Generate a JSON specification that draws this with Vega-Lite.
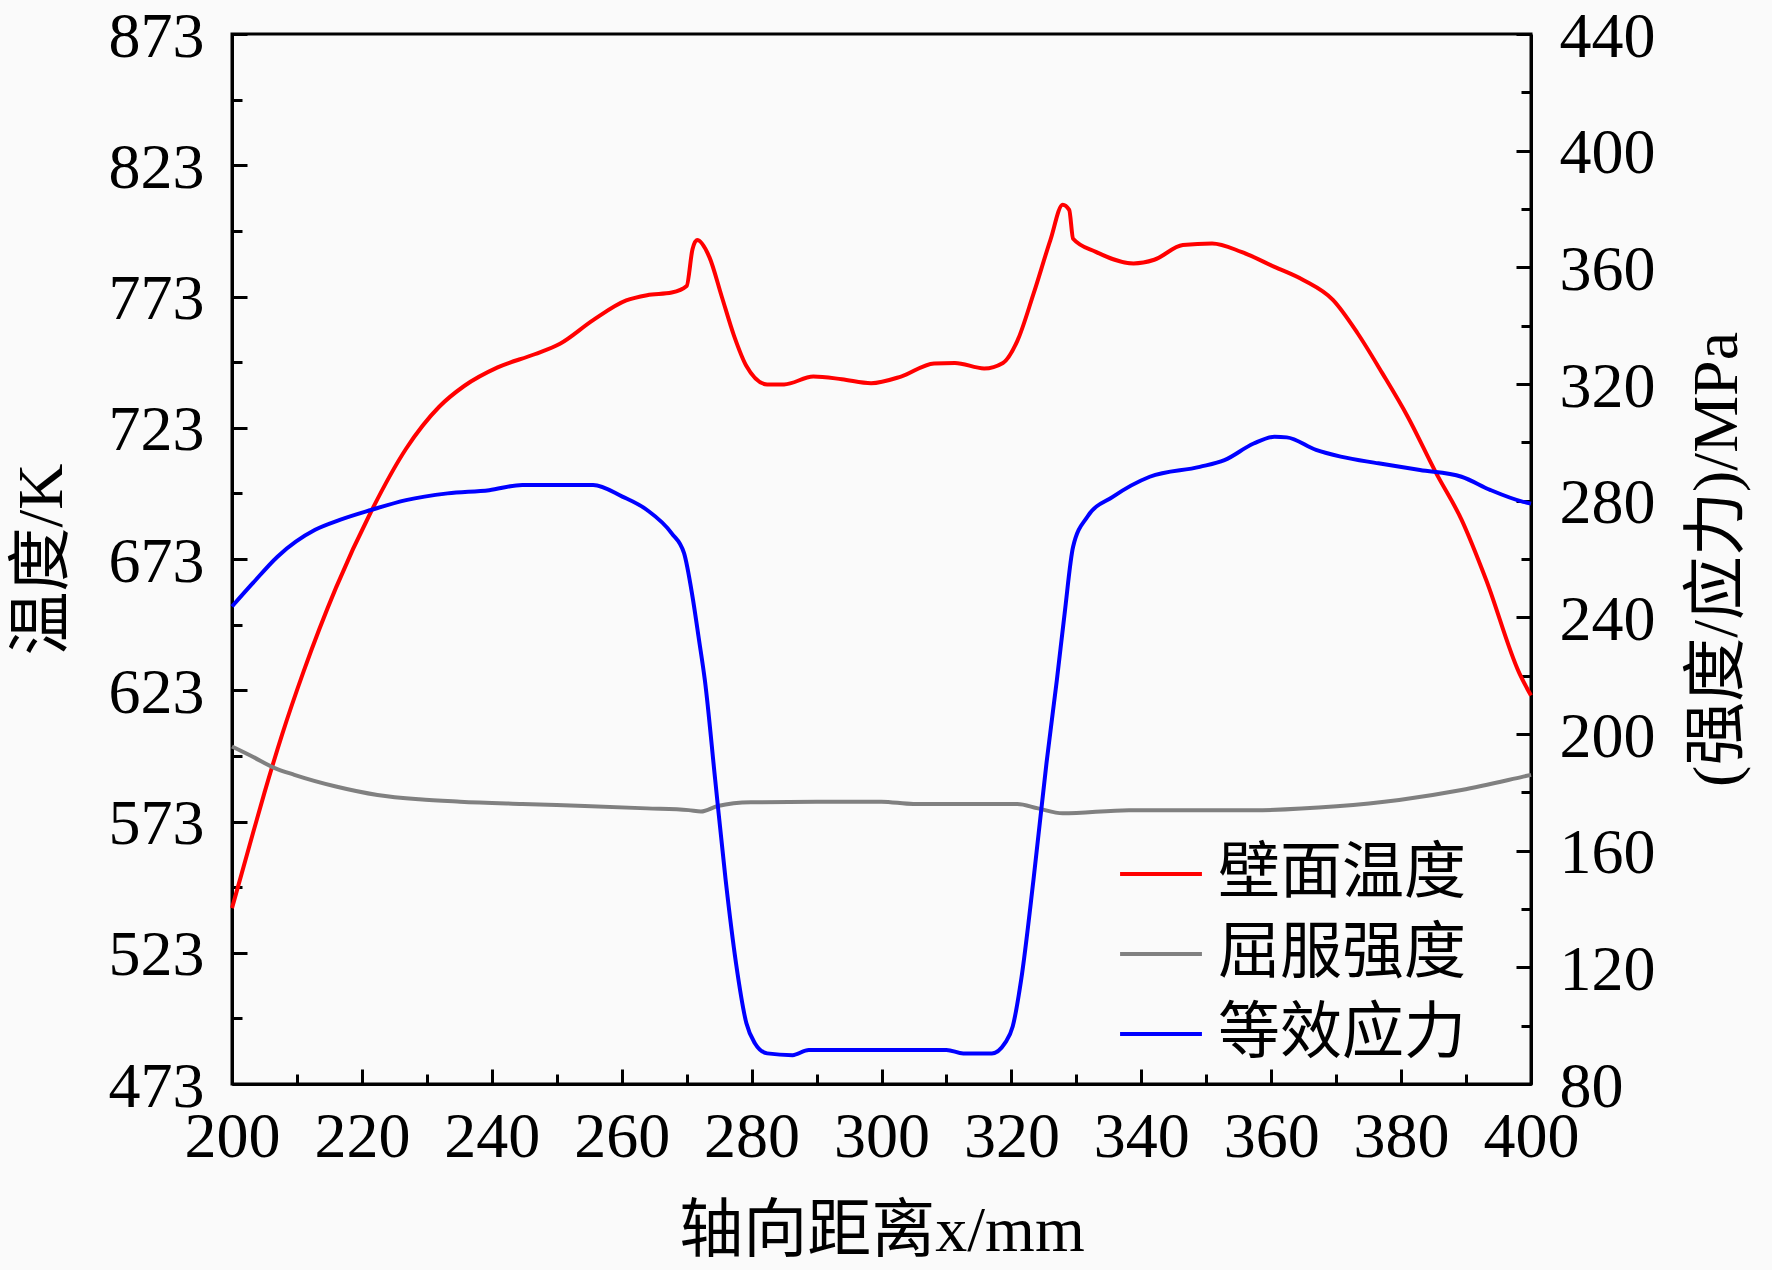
{
  "$schema": "https://vega.github.io/schema/vega-lite/v6.json",
  "width": 1299,
  "height": 1050,
  "autosize": {"type": "none"},
  "padding": {"left": 232, "top": 34, "right": 241, "bottom": 186},
  "background": "#fafafa",
  "config": {
    "view": {"stroke": "black", "strokeWidth": 3},
    "font": "Liberation Serif, Noto Sans CJK SC",
    "axis": {
      "grid": false,
      "domainColor": "black",
      "domainWidth": 3,
      "tickColor": "black",
      "tickWidth": 3,
      "labelColor": "black",
      "titleColor": "black",
      "labelFont": "Liberation Serif",
      "labelFontSize": 64,
      "titleFont": "Liberation Serif, Noto Sans CJK SC",
      "titleFontSize": 64,
      "titleFontWeight": "normal",
      "labelOverlap": false,
      "labelFlush": false
    }
  },
  "data": {
    "values": [
      {"series": "壁面温度", "x": 200, "v": 540},
      {"series": "壁面温度", "x": 202.6, "v": 563},
      {"series": "壁面温度", "x": 205, "v": 584},
      {"series": "壁面温度", "x": 207.7, "v": 606},
      {"series": "壁面温度", "x": 211, "v": 630},
      {"series": "壁面温度", "x": 216, "v": 662},
      {"series": "壁面温度", "x": 221.4, "v": 691},
      {"series": "壁面温度", "x": 226.8, "v": 715},
      {"series": "壁面温度", "x": 231.9, "v": 731},
      {"series": "壁面温度", "x": 235.8, "v": 739},
      {"series": "壁面温度", "x": 240.9, "v": 746},
      {"series": "壁面温度", "x": 246.6, "v": 751},
      {"series": "壁面温度", "x": 250.5, "v": 755},
      {"series": "壁面温度", "x": 255.6, "v": 764},
      {"series": "壁面温度", "x": 260.7, "v": 771.5},
      {"series": "壁面温度", "x": 263.9, "v": 773.5},
      {"series": "壁面温度", "x": 267.7, "v": 774.5},
      {"series": "壁面温度", "x": 270, "v": 777},
      {"series": "壁面温度", "x": 270.9, "v": 791},
      {"series": "壁面温度", "x": 271.6, "v": 794.5},
      {"series": "壁面温度", "x": 273.5, "v": 788},
      {"series": "壁面温度", "x": 275.4, "v": 773},
      {"series": "壁面温度", "x": 277.3, "v": 758},
      {"series": "壁面温度", "x": 279.2, "v": 746.5},
      {"series": "壁面温度", "x": 282.4, "v": 739.5},
      {"series": "壁面温度", "x": 285, "v": 739.5},
      {"series": "壁面温度", "x": 289.5, "v": 742.5},
      {"series": "壁面温度", "x": 293.9, "v": 741.5},
      {"series": "壁面温度", "x": 298.4, "v": 740},
      {"series": "壁面温度", "x": 303, "v": 742.5},
      {"series": "壁面温度", "x": 308.1, "v": 747.5},
      {"series": "壁面温度", "x": 311.3, "v": 747.7},
      {"series": "壁面温度", "x": 315.8, "v": 745.6},
      {"series": "壁面温度", "x": 318.7, "v": 747.7},
      {"series": "壁面温度", "x": 320.9, "v": 756},
      {"series": "壁面温度", "x": 323.4, "v": 774},
      {"series": "壁面温度", "x": 326, "v": 794.5},
      {"series": "壁面温度", "x": 327.9, "v": 808},
      {"series": "壁面温度", "x": 328.9, "v": 806},
      {"series": "壁面温度", "x": 329.5, "v": 795},
      {"series": "壁面温度", "x": 333, "v": 790},
      {"series": "壁面温度", "x": 338.8, "v": 785.6},
      {"series": "壁面温度", "x": 342, "v": 787},
      {"series": "壁面温度", "x": 346.4, "v": 792.6},
      {"series": "壁面温度", "x": 350.9, "v": 793.2},
      {"series": "壁面温度", "x": 355.4, "v": 790},
      {"series": "壁面温度", "x": 360.5, "v": 784.3},
      {"series": "壁面温度", "x": 365, "v": 779.2},
      {"series": "壁面温度", "x": 369.5, "v": 771.7},
      {"series": "壁面温度", "x": 373.3, "v": 759},
      {"series": "壁面温度", "x": 377.1, "v": 743.8},
      {"series": "壁面温度", "x": 381, "v": 727.3},
      {"series": "壁面温度", "x": 385.4, "v": 705.7},
      {"series": "壁面温度", "x": 389.3, "v": 688},
      {"series": "壁面温度", "x": 393.1, "v": 665},
      {"series": "壁面温度", "x": 398.2, "v": 629.5},
      {"series": "壁面温度", "x": 400, "v": 621},

      {"series": "屈服强度", "x": 200, "v": 195.7},
      {"series": "屈服强度", "x": 203.2, "v": 192.2},
      {"series": "屈服强度", "x": 206.4, "v": 188.5},
      {"series": "屈服强度", "x": 209.6, "v": 186},
      {"series": "屈服强度", "x": 216, "v": 182},
      {"series": "屈服强度", "x": 222.4, "v": 179.1},
      {"series": "屈服强度", "x": 228.8, "v": 177.6},
      {"series": "屈服强度", "x": 235.1, "v": 176.8},
      {"series": "屈服强度", "x": 244.7, "v": 176},
      {"series": "屈服强度", "x": 254.3, "v": 175.3},
      {"series": "屈服强度", "x": 263.9, "v": 174.5},
      {"series": "屈服强度", "x": 270.3, "v": 173.9},
      {"series": "屈服强度", "x": 272.2, "v": 173.4},
      {"series": "屈服强度", "x": 274.8, "v": 175.3},
      {"series": "屈服强度", "x": 279.9, "v": 176.6},
      {"series": "屈服强度", "x": 290, "v": 176.8},
      {"series": "屈服强度", "x": 300, "v": 176.8},
      {"series": "屈服强度", "x": 304.9, "v": 176},
      {"series": "屈服强度", "x": 320.9, "v": 176},
      {"series": "屈服强度", "x": 324.1, "v": 174.5},
      {"series": "屈服强度", "x": 327.9, "v": 172.8},
      {"series": "屈服强度", "x": 338.1, "v": 173.9},
      {"series": "屈服强度", "x": 357.3, "v": 173.9},
      {"series": "屈服强度", "x": 370.1, "v": 175.2},
      {"series": "屈服强度", "x": 379.7, "v": 177.4},
      {"series": "屈服强度", "x": 389.3, "v": 180.8},
      {"series": "屈服强度", "x": 398.8, "v": 185.4},
      {"series": "屈服强度", "x": 400, "v": 186},

      {"series": "等效应力", "x": 200, "v": 243.7},
      {"series": "等效应力", "x": 203.2, "v": 251.7},
      {"series": "等效应力", "x": 207, "v": 260.8},
      {"series": "等效应力", "x": 212.8, "v": 270},
      {"series": "等效应力", "x": 216.6, "v": 273.4},
      {"series": "等效应力", "x": 221.4, "v": 276.8},
      {"series": "等效应力", "x": 226.8, "v": 280.2},
      {"series": "等效应力", "x": 233.2, "v": 282.5},
      {"series": "等效应力", "x": 239.6, "v": 283.6},
      {"series": "等效应力", "x": 244.7, "v": 285.4},
      {"series": "等效应力", "x": 251.1, "v": 285.4},
      {"series": "等效应力", "x": 255.6, "v": 285.4},
      {"series": "等效应力", "x": 260.1, "v": 281.4},
      {"series": "等效应力", "x": 263.9, "v": 276.8},
      {"series": "等效应力", "x": 267.7, "v": 268.8},
      {"series": "等效应力", "x": 269.6, "v": 262},
      {"series": "等效应力", "x": 270.9, "v": 247.1},
      {"series": "等效应力", "x": 271.9, "v": 232.3},
      {"series": "等效应力", "x": 272.8, "v": 218.5},
      {"series": "等效应力", "x": 274.4, "v": 184.2},
      {"series": "等效应力", "x": 276, "v": 150},
      {"series": "等效应力", "x": 277.6, "v": 121.4},
      {"series": "等效应力", "x": 279.2, "v": 100.8},
      {"series": "等效应力", "x": 280.5, "v": 94},
      {"series": "等效应力", "x": 282.4, "v": 90.5},
      {"series": "等效应力", "x": 286.3, "v": 89.9},
      {"series": "等效应力", "x": 288.8, "v": 91.7},
      {"series": "等效应力", "x": 300, "v": 91.7},
      {"series": "等效应力", "x": 310, "v": 91.7},
      {"series": "等效应力", "x": 312.6, "v": 90.5},
      {"series": "等效应力", "x": 317, "v": 90.5},
      {"series": "等效应力", "x": 319, "v": 94},
      {"series": "等效应力", "x": 320.2, "v": 99.7},
      {"series": "等效应力", "x": 321.5, "v": 115.7},
      {"series": "等效应力", "x": 323.4, "v": 150},
      {"series": "等效应力", "x": 325.4, "v": 190},
      {"series": "等效应力", "x": 327, "v": 218.5},
      {"series": "等效应力", "x": 328.2, "v": 241.4},
      {"series": "等效应力", "x": 329.5, "v": 264.2},
      {"series": "等效应力", "x": 331.7, "v": 274.5},
      {"series": "等效应力", "x": 335.6, "v": 281.3},
      {"series": "等效应力", "x": 341.3, "v": 288.2},
      {"series": "等效应力", "x": 349, "v": 291.6},
      {"series": "等效应力", "x": 352.8, "v": 293.9},
      {"series": "等效应力", "x": 357.3, "v": 299.6},
      {"series": "等效应力", "x": 360.5, "v": 301.9},
      {"series": "等效应力", "x": 362.4, "v": 301.7},
      {"series": "等效应力", "x": 366.9, "v": 297.4},
      {"series": "等效应力", "x": 370.7, "v": 295.1},
      {"series": "等效应力", "x": 376.5, "v": 292.8},
      {"series": "等效应力", "x": 382.9, "v": 290.5},
      {"series": "等效应力", "x": 389.3, "v": 288.2},
      {"series": "等效应力", "x": 393.7, "v": 283.7},
      {"series": "等效应力", "x": 398.8, "v": 279.6},
      {"series": "等效应力", "x": 400, "v": 279}
    ]
  },
  "layer": [
    {
      "transform": [{"filter": "datum.series === '壁面温度'"}],
      "mark": {"type": "line", "strokeWidth": 4, "interpolate": "monotone"},
      "encoding": {
        "x": {
          "field": "x", "type": "quantitative",
          "scale": {"domain": [200, 400], "nice": false},
          "axis": {"orient": "bottom", "values": [200, 220, 240, 260, 280, 300, 320, 340, 360, 380, 400], "tickSize": -15, "labelPadding": 36, "title": "轴向距离x/mm", "titlePadding": 30}
        },
        "y": {
          "field": "v", "type": "quantitative",
          "scale": {"domain": [473, 873], "nice": false, "zero": false},
          "axis": {"orient": "left", "values": [473, 523, 573, 623, 673, 723, 773, 823, 873], "tickSize": -15, "labelPadding": 43, "labelOffset": 3, "title": "温度/K", "titlePadding": 34}
        },
        "color": {
          "field": "series", "type": "nominal",
          "scale": {"domain": ["壁面温度", "屈服强度", "等效应力"], "range": ["#ff0000", "#808080", "#0000ff"]},
          "legend": {
            "orient": "none", "legendX": 886, "legendY": 797, "title": null,
            "symbolType": "stroke", "symbolSize": 6700, "symbolStrokeWidth": 4,
            "labelFont": "Noto Sans CJK SC", "labelFontSize": 62, "labelColor": "black",
            "labelOffset": 14, "rowPadding": 6, "padding": 0, "labelLimit": 400
          }
        }
      }
    },
    {
      "transform": [{"filter": "datum.series === '屈服强度'"}],
      "mark": {"type": "line", "strokeWidth": 4, "interpolate": "monotone"},
      "encoding": {
        "x": {
          "field": "x", "type": "quantitative",
          "scale": {"domain": [200, 400], "nice": false},
          "axis": {"orient": "bottom", "values": [210, 230, 250, 270, 290, 310, 330, 350, 370, 390], "tickSize": -10, "labels": false, "domain": false, "title": null}
        },
        "y": {
          "field": "v", "type": "quantitative",
          "scale": {"domain": [80, 440], "nice": false, "zero": false},
          "axis": {"orient": "right", "values": [80, 120, 160, 200, 240, 280, 320, 360, 400, 440], "tickSize": -15, "labelPadding": 43, "labelOffset": 3, "title": "(强度/应力)/MPa", "titleAngle": -90, "titleBaseline": "top", "titlePadding": 30}
        },
        "color": {"field": "series", "type": "nominal"}
      }
    },
    {
      "transform": [{"filter": "datum.series === '等效应力'"}],
      "mark": {"type": "line", "strokeWidth": 4, "interpolate": "monotone"},
      "encoding": {
        "x": {"field": "x", "type": "quantitative", "scale": {"domain": [200, 400], "nice": false}, "axis": null},
        "y": {
          "field": "v", "type": "quantitative",
          "scale": {"domain": [80, 440], "nice": false, "zero": false},
          "axis": {"orient": "right", "values": [100, 140, 180, 220, 260, 300, 340, 380, 420], "tickSize": -10, "labels": false, "domain": false, "title": null}
        },
        "color": {"field": "series", "type": "nominal"}
      }
    },
    {
      "transform": [{"filter": "datum.series === '壁面温度'"}],
      "mark": {"type": "line", "strokeOpacity": 0},
      "encoding": {
        "x": {"field": "x", "type": "quantitative", "scale": {"domain": [200, 400], "nice": false}, "axis": null},
        "y": {
          "field": "v", "type": "quantitative",
          "scale": {"domain": [473, 873], "nice": false, "zero": false},
          "axis": {"orient": "left", "values": [498, 548, 598, 648, 698, 748, 798, 848], "tickSize": -10, "labels": false, "domain": false, "title": null}
        }
      }
    }
  ],
  "resolve": {
    "scale": {"y": "independent"},
    "axis": {"x": "independent", "y": "independent"}
  }
}
